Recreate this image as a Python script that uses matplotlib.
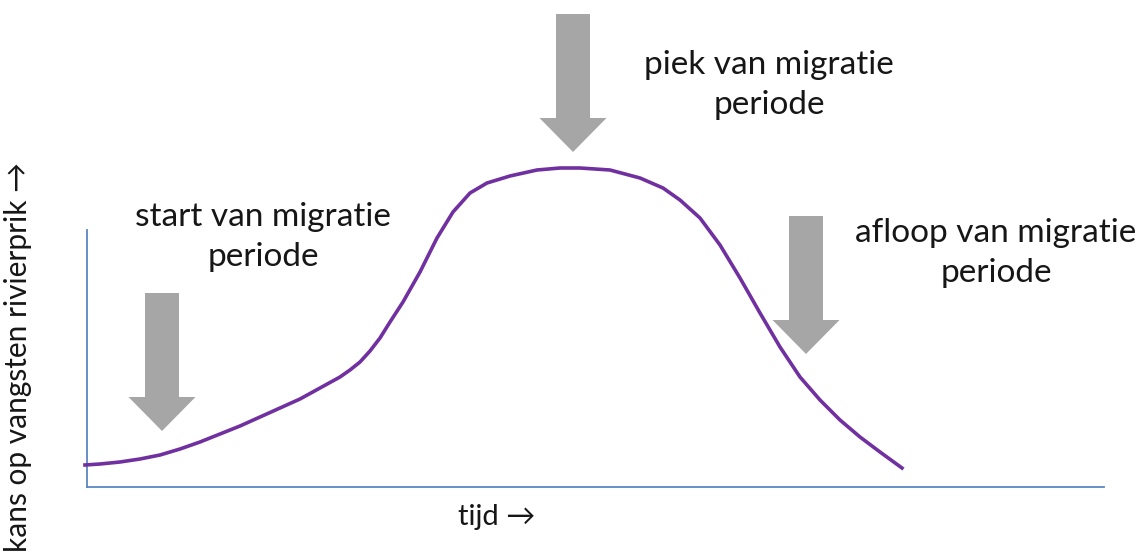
import matplotlib
matplotlib.use("Agg")
import matplotlib.pyplot as plt

plt.rcParams['font.family'] = ['Lato', 'DejaVu Sans']

# curve (tijd, kans) in arbitrary units
tijd = [-2, 13, 33, 53, 73, 93, 113, 133, 153, 173, 193, 213, 233, 253, 263, 273, 283,
        293, 303, 316, 333, 350, 366, 383, 400, 423, 450, 473, 493, 523, 553, 576, 593,
        613, 633, 653, 673, 693, 713, 733, 753, 773, 793, 815]
kans = [22, 23, 25, 28, 32, 38, 45, 53, 61, 70, 79, 88, 99, 110, 117, 125, 136,
        149, 165, 185, 215, 249, 275, 294, 304, 311, 317, 319, 319, 317, 309, 299, 287,
        269, 242, 209, 174, 140, 110, 87, 67, 50, 35, 19]

labels = ["start van migratie\nperiode", "piek van migratie\nperiode", "afloop van migratie\nperiode"]
# arrow tip positions (tijd, kans) and label centers
arrow_x = [75, 486, 719]
arrow_tip = [56, 335, 133]
label_xy = [(176, 250), (682, 402), (909, 234)]

paars = '#7030a0'
grijs = '#a6a6a6'
asblauw = '#5b87c0'

fig = plt.figure(figsize=(11.44, 5.53), dpi=100)
ax = fig.add_axes([87 / 1144, 66 / 553, 1017 / 1144, 257 / 553])
ax.set_xlim(0, 1017)
ax.set_ylim(0, 257)

ax.plot(tijd, kans, color=paars, lw=2.6, clip_on=False, solid_joinstyle='round', zorder=3)

for x, tip in zip(arrow_x, arrow_tip):
    ax.arrow(x, tip + 138, 0, -138, width=34, head_width=67, head_length=34,
             length_includes_head=True, color=grijs, lw=0, clip_on=False, zorder=2)

for (x, y), t in zip(label_xy, labels):
    ax.text(x, y, t, ha='center', va='center', fontsize=24, linespacing=1.45, color='#161616')

for s in ['top', 'right']:
    ax.spines[s].set_visible(False)
for s in ['left', 'bottom']:
    ax.spines[s].set_color(asblauw)
    ax.spines[s].set_linewidth(1.3)
ax.set_xticks([])
ax.set_yticks([])

fig.text(497 / 1144, 1 - 517 / 553, "tijd \u2192", ha='center', va='center', fontsize=21, color='#161616')
fig.text(18 / 1144, 1 - 162 / 553, "kans op vangsten rivierprik \u2192", ha='center', va='top',
         rotation=90, fontsize=21.5, color='#161616')

fig.savefig('out.png', dpi=100)
